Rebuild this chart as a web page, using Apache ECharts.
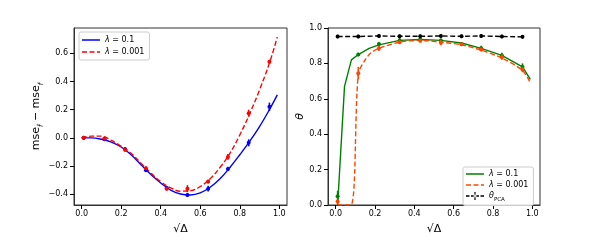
<!DOCTYPE html>
<html><head><meta charset="utf-8">
<script src="https://cdn.jsdelivr.net/npm/echarts@6/dist/echarts.min.js"></script>
<style>html,body{margin:0;padding:0;background:#fff}#c{width:600px;height:240px}</style>
</head><body><div id="c"></div>
<script>
// ---- Left panel data ----
const curveX = [0,0.05,0.1,0.15,0.2,0.25,0.3,0.35,0.4,0.45,0.5,0.55,0.6,0.65,0.7,0.75,0.8,0.85,0.9,0.95,0.99];
const blueCurve = [0,0,-0.01,-0.03,-0.065,-0.12,-0.19,-0.26,-0.32,-0.37,-0.398,-0.405,-0.39,-0.35,-0.29,-0.21,-0.12,-0.025,0.08,0.2,0.305];
const redCurve  = [0,0.012,0.012,-0.018,-0.06,-0.11,-0.18,-0.25,-0.31,-0.355,-0.378,-0.375,-0.345,-0.29,-0.21,-0.11,0.02,0.17,0.34,0.53,0.715];
const ptX = [0.01,0.115,0.22,0.325,0.43,0.535,0.64,0.74,0.845,0.95];
const bluePts = [0,-0.01,-0.08,-0.23,-0.355,-0.405,-0.36,-0.22,-0.035,0.22];
const blueErr = [0.005,0.01,0.01,0.01,0.01,0.01,0.02,0.015,0.025,0.03];
const redPts  = [0,-0.005,-0.085,-0.215,-0.36,-0.36,-0.31,-0.135,0.175,0.54];
const redErr  = [0.005,0.01,0.01,0.01,0.01,0.025,0.01,0.02,0.025,0.01];
// ---- Right panel data ----
const greenLineX = [0.01,0.045,0.08,0.115,0.17,0.22,0.325,0.43,0.535,0.64,0.74,0.845,0.95,0.99];
const greenLineY = [0,0.67,0.82,0.85,0.885,0.905,0.93,0.935,0.93,0.915,0.885,0.845,0.78,0.71];
const orangeLineX = [0.01,0.077,0.115,0.15,0.18,0.22,0.325,0.43,0.535,0.64,0.74,0.845,0.95,0.99];
const orangeLineY = [0,0,0.74,0.82,0.86,0.885,0.92,0.93,0.92,0.905,0.875,0.83,0.76,0.69];
const greenPts = [0.05,0.85,0.91,0.93,0.935,0.93,0.91,0.885,0.845,0.78];
const greenErr = [0.03,0.01,0.01,0.015,0.01,0.01,0.01,0.015,0.015,0.02];
const orangePts = [0.02,0.745,0.885,0.92,0.928,0.917,0.908,0.878,0.835,0.765];
const orangeErr = [0.01,0.035,0.015,0.01,0.01,0.015,0.01,0.01,0.015,0.015];
const pcaPts = [0.952,0.952,0.955,0.953,0.953,0.955,0.953,0.955,0.952,0.95];
const pcaErr = [0.005,0.005,0.008,0.01,0.01,0.008,0.005,0.008,0.005,0.005];
const xTicks = [0,0.2,0.4,0.6,0.8,1.0];
const yTicksL = [-0.4,-0.2,0,0.2,0.4,0.6];
const yTicksR = [0,0.2,0.4,0.6,0.8,1.0];

const zip = (xs, ys) => xs.map((x,i)=>[x, ys[i]]);
const zip3 = (xs, ys, es) => xs.map((x,i)=>[x, ys[i], es[i]]);
const fmt = v => v.toFixed(1).replace('-', '\u2212');
const FONT = 'DejaVu Sans';

function xAxis(gi){
  return {type:'value', gridIndex:gi, min:-0.039, max:1.039,
    name:'√Δ', nameLocation:'middle', nameGap:19,
    nameTextStyle:{fontFamily:FONT, fontSize:11, color:'#000'},
    axisLine:{show:true, onZero:false, lineStyle:{color:'#333', width:1}}, splitLine:{show:false},
    axisTick:{show:true, inside:false, length:4, customValues:xTicks, lineStyle:{color:'#000', width:1}},
    axisLabel:{customValues:xTicks, formatter:fmt, fontFamily:FONT, fontSize:8, color:'#000', margin:5}};
}
function yAxis(gi, min, max, ticks, name, gap, rich){
  return {type:'value', gridIndex:gi, min:min, max:max,
    name:name, nameLocation:'middle', nameGap:gap, nameRotate:90,
    nameTextStyle:{fontFamily:FONT, fontSize:11, color:'#000', rich:rich},
    axisLine:{show:true, onZero:false, lineStyle:{color:'#333', width:1}}, splitLine:{show:false},
    axisTick:{show:true, inside:false, length:4, customValues:ticks, lineStyle:{color:'#000', width:1}},
    axisLabel:{customValues:ticks, formatter:fmt, fontFamily:FONT, fontSize:8, color:'#000', margin:6}};
}
function errSeries(name, xi, yi, data, color, r){
  return {type:'custom', name:name, xAxisIndex:xi, yAxisIndex:yi, data:data, z:4,
    encode:{x:0, y:1},
    renderItem:function(params, api){
      const x=api.value(0), y=api.value(1), e=api.value(2);
      const p=api.coord([x,y]), a=api.coord([x,y-e]), b=api.coord([x,y+e]);
      return {type:'group', children:[
        {type:'line', shape:{x1:a[0], y1:Math.max(a[1],p[1]+1.8), x2:b[0], y2:Math.min(b[1],p[1]-1.8)}, style:{stroke:color, lineWidth:1.6}},
        {type:'circle', shape:{cx:p[0], cy:p[1], r:r}, style:{fill:color}}
      ]};
    }};
}
const lineBase = {type:'line', symbol:'none', clip:true, z:3};

const chart = echarts.init(document.getElementById('c'), null, {renderer:'canvas'});
const corners = ' M0,0h0.01v0.01h-0.01z M17.99,7.99h0.01v0.01h-0.01z';
const solidIcon = 'path://M0,3.3h18v1.4h-18z' + corners;
const dashIcon = 'path://M0,3.3h5v1.4h-5z M7.5,3.3h5v1.4h-5z M15,3.3h3v1.4h-3z' + corners;
const pcaIcon = 'path://M0,3.3h3.5v1.4h-3.5z M5,3.3h3.5v1.4h-3.5z M9.5,3.3h3.5v1.4h-3.5z M14.5,3.3h3.5v1.4h-3.5z M8.4,0h1.2v8h-1.2z M7.5,4a1.5,1.5 0 1,0 3,0a1.5,1.5 0 1,0 -3,0z' + corners;
chart.setOption({
  animation:false,
  backgroundColor:'#fff',
  grid:[
    {left:74, top:28, width:213, height:182, show:true, borderColor:'#333', borderWidth:1, backgroundColor:'transparent'},
    {left:328, top:28, width:212, height:182, show:true, borderColor:'#333', borderWidth:1, backgroundColor:'transparent'}
  ],
  xAxis:[xAxis(0), xAxis(1)],
  yAxis:[
    yAxis(0, -0.476, 0.779, yTicksL, '{m|mse}{s|f\u0302}{m| \u2212 mse}{s|f}', 27,
      {m:{fontFamily:FONT, fontSize:11, color:'#000'}, s:{fontFamily:FONT, fontSize:7, fontStyle:'italic', color:'#000', verticalAlign:'bottom', lineHeight:18}}),
    yAxis(1, 0, 1, yTicksR, '{t|θ}', 21, {t:{fontFamily:FONT, fontSize:11, fontStyle:'italic', color:'#000'}})
  ],
  legend:[
    {left:79, top:32, orient:'vertical', data:[{name:'L1', icon:solidIcon},{name:'L2', icon:dashIcon}], itemWidth:18, itemHeight:8, itemGap:4,
      padding:[4,5,4,3], backgroundColor:'rgba(255,255,255,0.8)', borderColor:'#ccc', borderWidth:1, borderRadius:2,
      formatter:n=> n==='L1' ? '{i|λ} = 0.1' : '{i|λ} = 0.001',
      textStyle:{fontFamily:FONT, fontSize:8, color:'#000', rich:{i:{fontStyle:'italic', fontFamily:FONT, fontSize:8}}}},
    {left:463, top:167, orient:'vertical', data:[{name:'R1', icon:solidIcon},{name:'R2', icon:dashIcon},{name:'R3', icon:pcaIcon}], itemWidth:18, itemHeight:8, itemGap:3,
      padding:[3,5,3,3], backgroundColor:'rgba(255,255,255,0.8)', borderColor:'#ccc', borderWidth:1, borderRadius:2,
      formatter:n=> n==='R1' ? '{i|λ} = 0.1' : (n==='R2' ? '{i|λ} = 0.001' : '{i|θ}{s|PCA}'),
      textStyle:{fontFamily:FONT, fontSize:8, color:'#000', rich:{i:{fontStyle:'italic', fontFamily:FONT, fontSize:8}, s:{fontFamily:FONT, fontSize:5.5, verticalAlign:'bottom', lineHeight:13}}}}
  ],
  series:[
    Object.assign({}, lineBase, {name:'L1', xAxisIndex:0, yAxisIndex:0, smooth:0.4, data:zip(curveX, blueCurve), lineStyle:{color:'#0000ff', width:1.4}, itemStyle:{color:'#0000ff'}}),
    Object.assign({}, lineBase, {name:'L2', xAxisIndex:0, yAxisIndex:0, smooth:0.4, data:zip(curveX, redCurve), lineStyle:{color:'#ff0000', width:1.4, type:[5,2.5]}, itemStyle:{color:'#ff0000'}}),
    errSeries('eb', 0, 0, zip3(ptX, bluePts, blueErr), '#0000ff', 2),
    errSeries('er', 0, 0, zip3(ptX, redPts, redErr), '#ff0000', 2),
    Object.assign({}, lineBase, {name:'R1', xAxisIndex:1, yAxisIndex:1, data:zip(greenLineX, greenLineY), lineStyle:{color:'#008000', width:1.4}, itemStyle:{color:'#008000'}}),
    Object.assign({}, lineBase, {name:'R2', xAxisIndex:1, yAxisIndex:1, smooth:0.3, data:zip(orangeLineX, orangeLineY), lineStyle:{color:'#ff4500', width:1.4, type:[5,2.5]}, itemStyle:{color:'#ff4500'}}),
    Object.assign({}, lineBase, {name:'R3', xAxisIndex:1, yAxisIndex:1, data:zip(ptX, pcaPts), lineStyle:{color:'#000', width:1.4, type:[5,2.5]}, itemStyle:{color:'#000'}}),
    errSeries('eg', 1, 1, zip3(ptX, greenPts, greenErr), '#008000', 2),
    errSeries('eo', 1, 1, zip3(ptX, orangePts, orangeErr), '#ff4500', 2),
    errSeries('ep', 1, 1, zip3(ptX, pcaPts, pcaErr), '#000', 2)
  ]
});
</script></body></html>
